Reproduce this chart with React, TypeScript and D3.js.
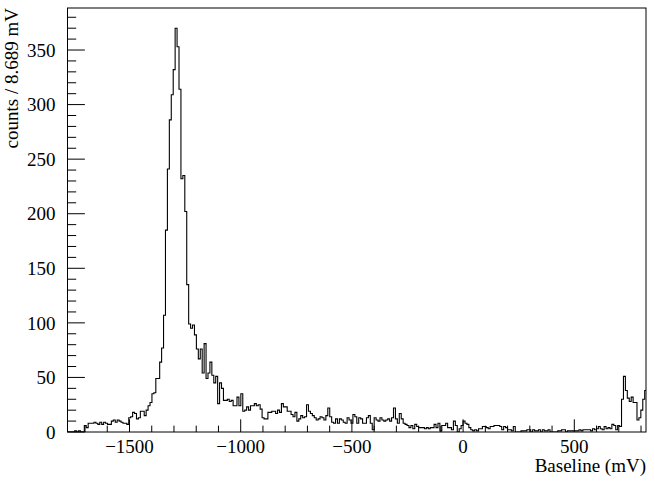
import React from "react";
import * as d3 from "d3";

// ---- data ----
const histXMin = -1781.4;
const binWidth = 8.689;
const counts: number[] = [
  0, 0, 0, 0, 1, 0, 1, 0, 0, 6,
  4, 8, 8, 8, 9, 8, 7, 9, 7, 9,
  8, 7, 7, 10, 11, 9, 11, 10, 9, 8,
  8, 7, 13, 14, 18, 17, 12, 13, 19, 19,
  15, 20, 24, 27, 35, 36, 49, 49, 64, 77,
  107, 185, 241, 286, 309, 332, 370, 353, 314, 232,
  235, 202, 135, 99, 95, 98, 89, 76, 67, 76,
  54, 81, 49, 54, 64, 52, 45, 51, 26, 45,
  40, 29, 29, 30, 28, 29, 24, 24, 32, 24,
  35, 19, 20, 23, 20, 24, 24, 26, 24, 25,
  21, 13, 12, 12, 18, 18, 19, 19, 17, 20,
  18, 26, 23, 23, 19, 19, 16, 14, 18, 10,
  12, 15, 13, 14, 25, 19, 17, 15, 13, 11,
  12, 14, 13, 11, 15, 22, 14, 9, 8, 12,
  8, 12, 11, 9, 8, 13, 11, 8, 16, 14,
  8, 13, 12, 8, 8, 13, 15, 8, 2, 13,
  11, 10, 13, 11, 10, 11, 12, 10, 13, 22,
  12, 8, 17, 12, 8, 7, 6, 4, 6, 3,
  7, 5, 4, 4, 4, 3, 4, 3, 4, 4,
  7, 4, 8, 1, 6, 6, 8, 4, 4, 2,
  10, 6, 0, 3, 6, 10, 8, 7, 4, 2,
  1, 2, 1, 3, 3, 5, 5, 4, 3, 5,
  5, 6, 6, 6, 5, 2, 5, 4, 2, 2,
  1, 5, 0, 0, 0, 1, 1, 1, 2, 2,
  0, 2, 1, 1, 2, 0, 2, 1, 1, 2,
  0, 0, 0, 0, 1, 1, 2, 2, 0, 1,
  1, 1, 1, 1, 1, 2, 1, 2, 2, 2,
  2, 1, 3, 2, 3, 5, 3, 2, 5, 3,
  4, 3, 7, 6, 2, 6, 5, 30, 51, 38,
  31, 28, 32, 27, 27, 11, 13, 20, 30, 38,
];
const xDomain: [number, number] = [-1778.8, 822.4];
const yDomain: [number, number] = [0, 388.5];
const xMajorTicks = [-1500, -1000, -500, 0, 500];
const xTickLabels = ["\u22121500", "\u22121000", "\u2212500", "0", "500"];
const yMajorTicks = [0, 50, 100, 150, 200, 250, 300, 350];
const yTickLabels = ["0", "50", "100", "150", "200", "250", "300", "350"];
const xTitle = "Baseline (mV)";
const yTitle = "counts / 8.689 mV";

// ---- layout ----
const W = 655, H = 481;
const L = 67.5, R = 646, T = 8, B = 432;
const font = "'Liberation Serif', 'Times New Roman', serif";
const labelSize = 19;
const titleSize = 19;

export default function App() {
  const x = d3.scaleLinear().domain(xDomain).range([L, R]);
  const y = d3.scaleLinear().domain(yDomain).range([B, T]);

  const pts: [number, number][] = counts.map((c, i) => [histXMin + i * binWidth, c]);
  pts.push([histXMin + counts.length * binWidth, counts[counts.length - 1]]);
  const line = d3
    .line<[number, number]>()
    .x((d) => x(d[0]))
    .y((d) => y(d[1]))
    .curve(d3.curveStepAfter);
  const path = line(pts) || "";

  const xMinor = d3.range(-1700, 801, 100).filter((v) => v % 500 !== 0);
  const yMinor = d3.range(0, 381, 10).filter((v) => v % 50 !== 0);
  const xMajLen = 12.7, xMinLen = 6.4, yMajLen = 17.4, yMinLen = 8.7;

  return (
    <svg
      width={W}
      height={H}
      style={{ position: "absolute", left: 0, top: 0, background: "#fff" }}
      fontFamily={font}
    >
      <defs>
        <clipPath id="frameClip">
          <rect x={L} y={T} width={R - L} height={B - T} />
        </clipPath>
      </defs>
      <rect x={0} y={0} width={W} height={H} fill="#fff" />
      <path d={path} fill="none" stroke="#000" strokeWidth={1.1} clipPath="url(#frameClip)" />
      <rect x={L} y={T} width={R - L} height={B - T} fill="none" stroke="#000" strokeWidth={1} />
      {/* x ticks */}
      {xMajorTicks.map((v) => (
        <line key={"xM" + v} x1={x(v)} x2={x(v)} y1={B} y2={B - xMajLen} stroke="#000" />
      ))}
      {xMinor.map((v) => (
        <line key={"xm" + v} x1={x(v)} x2={x(v)} y1={B} y2={B - xMinLen} stroke="#000" />
      ))}
      {xMajorTicks.map((v, i) => (
        <text key={"xl" + v} x={x(v)} y={B + 21} fontSize={labelSize} textAnchor="middle">
          {xTickLabels[i]}
        </text>
      ))}
      {/* y ticks */}
      {yMajorTicks.map((v) => (
        <line key={"yM" + v} x1={L} x2={L + yMajLen} y1={y(v)} y2={y(v)} stroke="#000" />
      ))}
      {yMinor.map((v) => (
        <line key={"ym" + v} x1={L} x2={L + yMinLen} y1={y(v)} y2={y(v)} stroke="#000" />
      ))}
      {yMajorTicks.map((v, i) => (
        <text key={"yl" + v} x={L - 12} y={y(v)} dy="0.35em" fontSize={labelSize} textAnchor="end">
          {yTickLabels[i]}
        </text>
      ))}
      <text x={R} y={472} fontSize={titleSize} textAnchor="end">
        {xTitle}
      </text>
      <text transform={`translate(17.5, ${T}) rotate(-90)`} fontSize={titleSize} textAnchor="end">
        {yTitle}
      </text>
    </svg>
  );
}
